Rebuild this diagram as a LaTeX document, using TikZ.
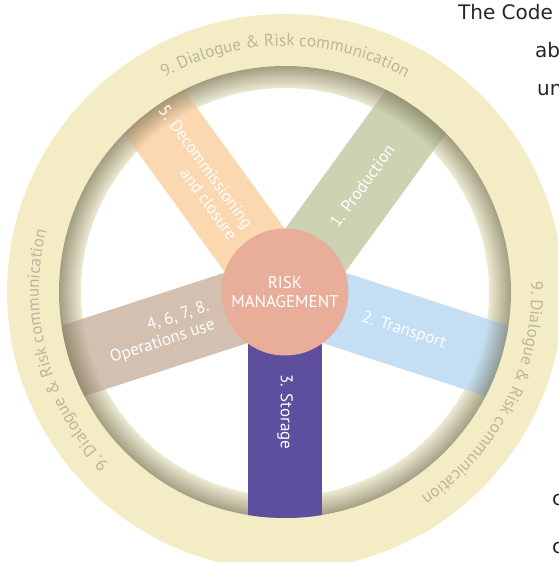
\documentclass[tikz,border=0pt]{standalone}
\usepackage{fontspec}
\setmainfont{PT Sans}
\newfontfamily\bodyfont{DejaVu Sans}
\usetikzlibrary{decorations.text,fadings}
\definecolor{ringyellow}{RGB}{244,236,197}
\definecolor{bandbase}{RGB}{238,235,212}
\definecolor{bandshade}{RGB}{112,108,76}
\definecolor{ringgray}{RGB}{186,183,158}
\definecolor{hubrose}{RGB}{232,174,154}
\definecolor{prodgreen}{RGB}{204,211,178}
\definecolor{transblue}{RGB}{196,222,243}
\definecolor{storpurple}{RGB}{94,78,158}
\definecolor{opsbrown}{RGB}{211,192,176}
\definecolor{decomorange}{RGB}{252,216,176}
\pgfdeclareradialshading{bandmask}{\pgfpointorigin}{color(0pt)=(pgftransparent);
	color(204pt)=(pgftransparent); color(226pt)=(pgftransparent!40); color(240pt)=(pgftransparent!40)}
\pgfdeclarefading{bandfade}{\pgfuseshading{bandmask}}
\begin{document}
\begin{tikzpicture}[x=1pt,y=1pt,
	spokelabel/.style={text=white,font=\fontsize{17}{19.5}\selectfont,inner sep=0pt},
	ringlabel/.style={decorate,decoration={text along path,text align=center,text color=ringgray,
		text={|\fontsize{17}{20}\selectfont|9. Dialogue {\&} Risk communication}}},
	bodytext/.style={anchor=base west,inner sep=0pt,text=black!85,font=\bodyfont\fontsize{20}{24}\selectfont}]
	%Clip
	\useasboundingbox (-285,-270) rectangle (273,292) ;
	\clip (-285,-270) rectangle (273,292) ;
	%Anneau
	\fill [ringyellow,even odd rule]	(0,0) circle (278) circle (226) ;
	\fill [bandbase,even odd rule]		(0,0) circle (226) circle (204) ;
	%Rayons
	\begin{scope}
		\clip (0,0) circle (226) ;
		\fill [prodgreen,rotate=54]		(0,-37) rectangle (240,37) ;
		\fill [transblue,rotate=-18]	(0,-37) rectangle (240,37) ;
		\fill [opsbrown,rotate=198]		(0,-37) rectangle (240,37) ;
		\fill [decomorange,rotate=126]	(0,-37) rectangle (240,37) ;
	\end{scope}
	%Ombre
	\fill [bandshade,path fading=bandfade,fit fading=false] (0,0) circle (226) ;
	%Stockage
	\begin{scope}
		\clip (0,0) circle (226) ;
		\fill [storpurple,rotate=-90]	(0,-37) rectangle (240,37) ;
	\end{scope}
	%Moyeu
	\node [circle,fill=hubrose,minimum size=127pt,inner sep=0pt,align=center,text=white,
		font=\fontsize{17}{18.5}\selectfont] (hub) at (0,0) {RISK\\MANAGEMENT} ;
	%Textes
	\path (54:131)	node [spokelabel,rotate=54]		(prod)	{1. Production} ;
	\path (-18:125)	node [spokelabel,rotate=-18]	(trans)	{2. Transport} ;
	\path (-90:120)	node [spokelabel,rotate=-90]	(stor)	{3. Storage} ;
	\path (198:77)	node [spokelabel,rotate=18,anchor=east,align=right]		(ops)	{4, 6, 7, 8.\\Operations use} ;
	\path (126:74)	node [spokelabel,rotate=-54,anchor=east,align=right]	(decom)	{5. Decommissioning\\and closure} ;
	%Dialogue
	\path [ringlabel] (135:246) arc [start angle=135,end angle=45,radius=246] ;
	\path [ringlabel] (240:246) arc [start angle=240,end angle=150,radius=246] ;
	\path [ringlabel] (18:246) arc [start angle=18,end angle=-72,radius=246] ;
	%Page
	\path (173,272)	node [bodytext] (code)	{The Code} ;
	\path (250,234)	node [bodytext] (ab)	{ab} ;
	\path (252,196)	node [bodytext] (un)	{un} ;
	\path (267,-213)	node [bodytext] (c1)	{c} ;
	\path (267,-261)	node [bodytext] (c2)	{c} ;
\end{tikzpicture}
\end{document}
